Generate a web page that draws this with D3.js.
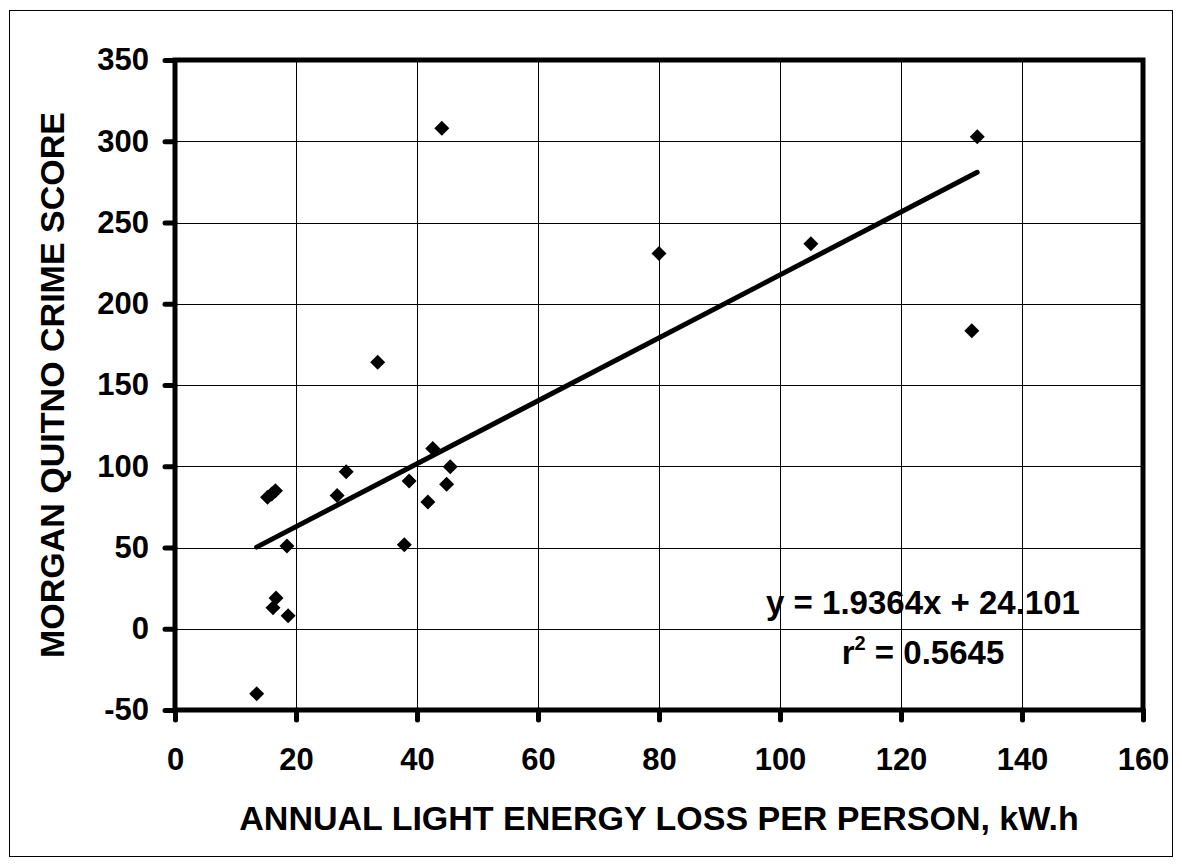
<!DOCTYPE html>
<html>
<head>
<meta charset="utf-8">
<script src="https://cdn.jsdelivr.net/npm/d3@7"></script>
<style>
  html, body { margin: 0; padding: 0; background: #fff; }
  text { font-family: "Liberation Sans", Arial, sans-serif; font-weight: bold; fill: #000; }
</style>
</head>
<body>
<svg id="chart" width="1182" height="866"></svg>
<script>
// Data
const energyLoss = [13.5, 16.2, 16.7, 18.7, 18.5, 15.3, 16.0, 16.6, 26.8, 28.3, 33.5, 37.9, 38.7, 41.8, 42.6, 44.9, 45.5, 44.1, 80.0, 105.1, 132.6, 131.7];
const crimeScore = [-40, 13, 19, 8, 51, 81, 83, 85, 82, 96.6, 164, 51.7, 91, 78, 111, 89, 99.7, 308, 231, 237, 302.7, 183.4];
const xTicks = [0, 20, 40, 60, 80, 100, 120, 140, 160];
const yTicks = [-50, 0, 50, 100, 150, 200, 250, 300, 350];
const slope = 1.9364, intercept = 24.101;
const equationLabel = "y = 1.9364x + 24.101";
const r2Label = "0.5645";
const xTitle = "ANNUAL LIGHT ENERGY LOSS PER PERSON, kW.h";
const yTitle = "MORGAN QUITNO CRIME SCORE";

const svg = d3.select("#chart");
svg.append("rect").attr("x", 0).attr("y", 0).attr("width", 1182).attr("height", 866).attr("fill", "#fff");
// outer chart frame
svg.append("rect").attr("x", 9.5).attr("y", 10.5).attr("width", 1163).attr("height", 846)
  .attr("fill", "none").attr("stroke", "#000").attr("stroke-width", 1);

const x = d3.scaleLinear().domain([0, 160]).range([175, 1143]);
const y = d3.scaleLinear().domain([-50, 350]).range([710, 60]);

// gridlines
const g = svg.append("g");
g.selectAll("line.vg").data(xTicks).enter().append("line")
  .attr("x1", d => Math.round(x(d)) + 0.5).attr("x2", d => Math.round(x(d)) + 0.5)
  .attr("y1", y(350)).attr("y2", y(-50)).attr("stroke", "#000").attr("stroke-width", 1);
g.selectAll("line.hg").data(yTicks).enter().append("line")
  .attr("y1", d => Math.round(y(d)) + 0.5).attr("y2", d => Math.round(y(d)) + 0.5)
  .attr("x1", x(0)).attr("x2", x(160)).attr("stroke", "#000").attr("stroke-width", 1);

// axes
const fmt = d => String(d);
const xAxis = d3.axisBottom(x).tickValues(xTicks).tickFormat(fmt).tickSize(10).tickPadding(28).tickSizeOuter(0);
const yAxis = d3.axisLeft(y).tickValues(yTicks).tickFormat(fmt).tickSize(10).tickPadding(16).tickSizeOuter(0);
const gx = svg.append("g").attr("transform", `translate(0,${y(-50)})`).call(xAxis);
const gy = svg.append("g").attr("transform", `translate(${x(0)},0)`).call(yAxis);
[gx, gy].forEach(a => {
  a.select(".domain").remove();
  a.selectAll(".tick line").attr("stroke", "#000").attr("stroke-width", 5).attr("stroke-linecap", "round");
  a.selectAll(".tick text").style("font-size", "31px").attr("fill", "#000");
});
gx.selectAll(".tick text").attr("dy", "0.71em");

// thick plot border
svg.append("rect").attr("x", x(0)).attr("y", y(350)).attr("width", x(160) - x(0)).attr("height", y(-50) - y(350))
  .attr("fill", "none").attr("stroke", "#000").attr("stroke-width", 5);

// trendline
const xmin = d3.min(energyLoss), xmax = d3.max(energyLoss);
svg.append("line")
  .attr("x1", x(xmin)).attr("y1", y(slope * xmin + intercept))
  .attr("x2", x(xmax)).attr("y2", y(slope * xmax + intercept))
  .attr("stroke", "#000").attr("stroke-width", 5).attr("stroke-linecap", "round");

// points (diamonds)
const r = 7.5;
svg.append("g").selectAll("path").data(energyLoss.map((d, i) => [d, crimeScore[i]])).enter().append("path")
  .attr("d", d => { const cx = x(d[0]), cy = y(d[1]); return `M${cx},${cy - r}L${cx + r},${cy}L${cx},${cy + r}L${cx - r},${cy}Z`; })
  .attr("fill", "#000");

// equation
svg.append("text").attr("x", 923).attr("y", 614).attr("text-anchor", "middle").style("font-size", "33px").text(equationLabel);
const t2 = svg.append("text").attr("x", 923).attr("y", 664).attr("text-anchor", "middle").style("font-size", "33px");
t2.append("tspan").text("r");
t2.append("tspan").attr("dy", -14).style("font-size", "20px").text("2");
t2.append("tspan").attr("dy", 14).text(" = " + r2Label);

// axis titles
svg.append("text").attr("x", (x(0) + x(160)) / 2).attr("y", 830).attr("text-anchor", "middle").style("font-size", "34px").text(xTitle);
svg.append("text").attr("transform", `translate(64,${(y(350) + y(-50)) / 2}) rotate(-90)`).attr("text-anchor", "middle").style("font-size", "34px").text(yTitle);
</script>
</body>
</html>
